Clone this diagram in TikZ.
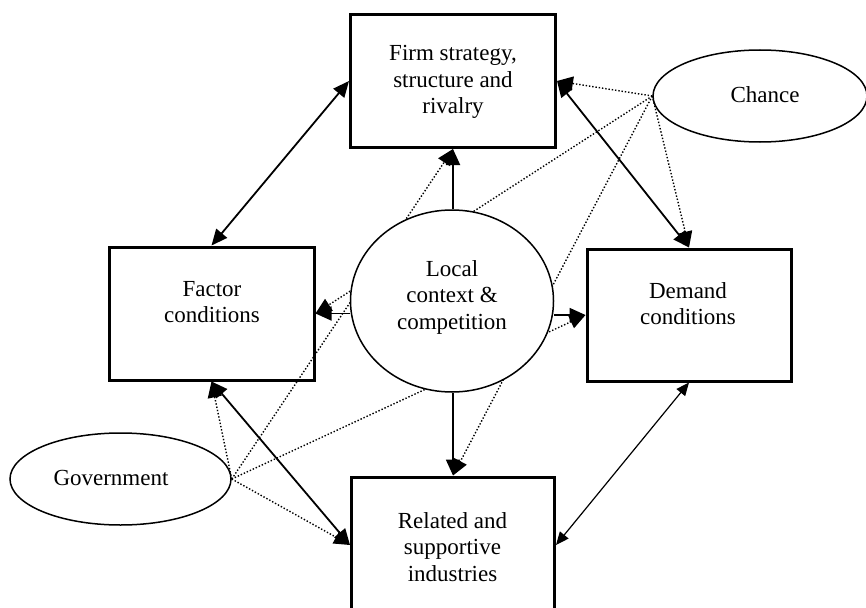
\documentclass[tikz,border=0pt]{standalone}
\usepackage{fontspec}
\setmainfont{Liberation Serif}
\usetikzlibrary{arrows.meta,shapes.geometric,calc}

\begin{document}
\begin{tikzpicture}[x=1pt,y=-1pt,
  box/.style={draw,line width=3pt,fill=white,inner sep=0pt},
  oval/.style={ellipse,draw,line width=1.5pt,fill=white,inner sep=0pt},
  txt/.style={align=center,inner sep=0pt,font=\fontsize{23}{26.5}\selectfont},
  bigtip/.style={-{Triangle[length=16pt,width=14pt]}},
  twotip/.style={{Triangle[length=16pt,width=14pt]}-{Triangle[length=16pt,width=14pt]}},
  smalltwotip/.style={{Triangle[length=13pt,width=11pt]}-{Triangle[length=13pt,width=11pt]}},
  link/.style={line width=1.8pt},
  thinlink/.style={line width=1.2pt},
  influence/.style={line width=1.4pt,dash pattern=on 1.4pt off 1.9pt,-{Triangle[length=16pt,width=14pt]}}
]
\clip (0,0) rectangle (866,607);

% the four determinants
\node[box,minimum width=205pt,minimum height=133pt] (firm) at (453,81) {};
\node[box,minimum width=205pt,minimum height=133pt] (factor) at (211.5,313.5) {};
\node[box,minimum width=204pt,minimum height=132pt] (demand) at (689,315) {};
\node[box,minimum width=203pt,minimum height=136pt] (related) at (453,545) {};

\node[txt] (firmtxt) at (453,82) {Firm strategy,\\structure and\\rivalry};
\node[txt] (factortxt) at (212,302) {Factor\\conditions};
\node[txt] (demandtxt) at (688,303.5) {Demand\\conditions};
\node[txt] (relatedtxt) at (452.5,547) {Related and\\supportive\\industries};

% outside influences
\node[oval,minimum width=214pt,minimum height=92pt] (chance) at (760,96) {};
\node[txt] (chancetxt) at (765,95) {Chance};
\node[oval,minimum width=221pt,minimum height=92pt] (gov) at (120.5,479) {};
\node[txt] (govtxt) at (111,478) {Government};

% dotted influence lines
\draw[influence] (chance.west) -- (firm.east);
\draw[influence] (chance.west) -- (factor.east);
\draw[influence] (chance.west) -- (demand.north);
\draw[influence] (chance.west) -- (related.north);
\draw[influence] (gov.east) -- (factor.south);
\draw[influence] (gov.east) -- (firm.south);
\draw[influence] (gov.east) -- (demand.west);
\draw[influence] (gov.east) -- (related.west);

% links around the diamond
\draw[link,twotip] (firm.west) -- (factor.north);
\draw[link,twotip] (firm.east) -- (demand.north);
\draw[link,twotip] (factor.south) -- (related.west);
\draw[thinlink,smalltwotip] (demand.south) -- (related.east);

% centre
\node[oval,minimum width=203pt,minimum height=182pt] (local) at (452,301) {};
\node[txt] (localtxt) at (452,297) {Local\\context \&\\competition};

\draw[link,bigtip] (firm.south |- local.north) -- (firm.south);
\draw[link,bigtip] (related.north |- local.south) -- (related.north);
\draw[link,bigtip] (local.west |- factor.east) -- (factor.east);
\draw[link,bigtip] (local.east |- demand.west) -- (demand.west);
\end{tikzpicture}
\end{document}
